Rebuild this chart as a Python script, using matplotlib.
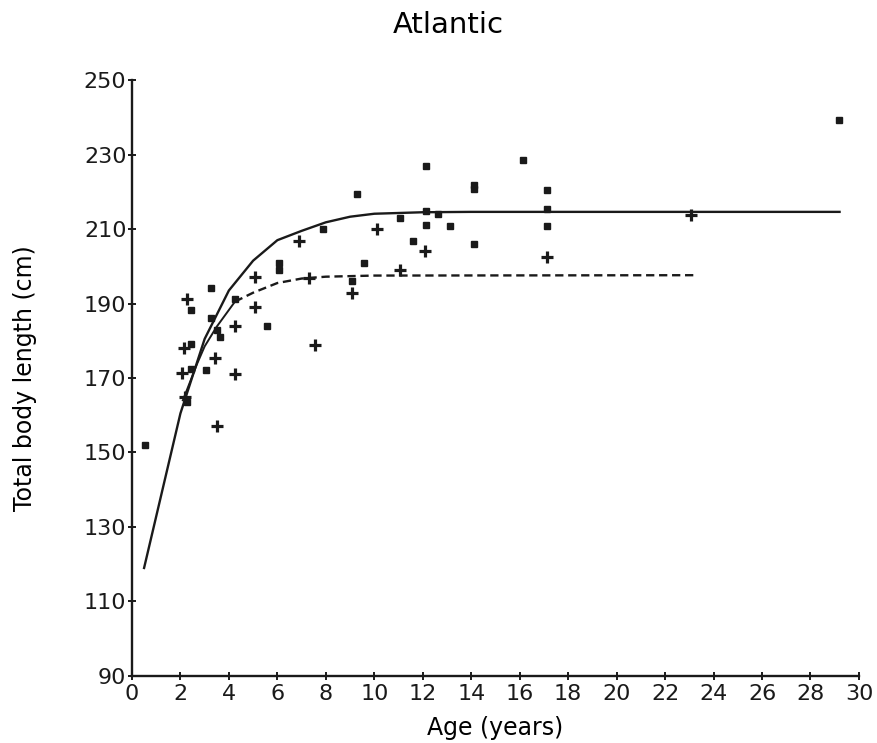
import matplotlib
matplotlib.use('Agg')
from matplotlib import pyplot as plt

# observed lengths, females (squares) and males (crosses)
sq_age = [0.54, 2.26, 2.44, 2.45, 2.45, 3.04, 3.25, 3.25, 3.52, 3.63, 4.25, 5.56,
          6.08, 6.08, 7.87, 9.07, 9.3, 9.59, 11.06, 11.58, 12.13, 12.13, 12.13,
          12.64, 13.12, 14.11, 14.11, 14.11, 16.13, 17.12, 17.12, 17.12, 29.18]
sq_len = [152, 163.5, 172.5, 179.1, 188.3, 172.1, 194.1, 186, 183, 181, 191.1, 184,
          201, 199, 210, 196, 219.5, 201, 213, 206.9, 227, 214.8, 211,
          213.9, 210.9, 221.8, 220.8, 205.9, 228.6, 220.5, 215.5, 210.8, 239.3]

cr_age = [2.05, 2.15, 2.19, 2.28, 3.43, 3.52, 4.25, 4.25, 5.08, 5.08, 6.89, 7.3,
          7.55, 9.07, 10.1, 11.06, 12.1, 17.11, 23.07]
cr_len = [171.3, 178.1, 165, 191.1, 175.3, 157.2, 184, 171.1, 197, 189, 206.9, 196.9,
          178.9, 192.9, 209.9, 199, 204, 202.6, 213.8]

# growth curves
fit1_age = [0.5, 2.0, 3.0, 4.0, 5.0, 6.0, 7.0, 8.0, 9.0, 10.0, 12.0, 14.0, 29.2]
fit1_len = [119, 160.5, 180.5, 193.5, 201.5, 207, 209.5, 211.8, 213.3, 214.1, 214.5, 214.6, 214.6]

fit2_age = [2.1, 2.7, 3.0, 3.5, 4.25, 5.0, 6.0, 7.0, 8.0, 10.0, 23.2]
fit2_len = [164, 174, 178.5, 183.8, 190.5, 192.9, 195.5, 196.7, 197.2, 197.5, 197.6]

xticks = list(range(0, 31, 2))
yticks = list(range(90, 251, 20))

plt.rcParams['font.family'] = 'DejaVu Sans'
ink = '#1a1a1a'

fig = plt.figure(figsize=(8.78, 7.43), dpi=100)
ax = fig.add_axes([0.1503, 0.0902, 0.828, 0.8021])

ax.plot(fit1_age, fit1_len, c=ink, lw=1.7)
ax.plot(fit2_age[:5], fit2_len[:5], c=ink, lw=1.4)
ax.plot(fit2_age[4:], fit2_len[4:], c=ink, lw=1.7, ls=(0, (3.5, 2.0)))

ax.plot(sq_age, sq_len, 's', ms=5, c=ink, ls='none')
ax.plot(cr_age, cr_len, '+', ms=8.5, mew=2.3, c=ink, ls='none')

ax.set_xlim(0, 30)
ax.set_ylim(90, 250)
ax.set_xticks(xticks)
ax.set_yticks(yticks)
ax.spines['top'].set_visible(False)
ax.spines['right'].set_visible(False)
for s in ['left', 'bottom']:
    ax.spines[s].set_linewidth(1.7)
    ax.spines[s].set_color(ink)
ax.tick_params(axis='both', direction='inout', length=6, width=1.4,
               labelsize=16, colors=ink)
ax.tick_params(axis='x', pad=3)
ax.tick_params(axis='y', pad=1)

ax.set_xlabel('Age (years)', fontsize=17)
ax.xaxis.set_label_coords(0.5, -0.067)
ax.set_ylabel('Total body length (cm)', fontsize=17)
ax.yaxis.set_label_coords(-0.131, 0.5)

fig.text(0.511, 0.966, 'Atlantic', fontsize=21, ha='center', va='center')

fig.savefig('out.png', dpi=100)
